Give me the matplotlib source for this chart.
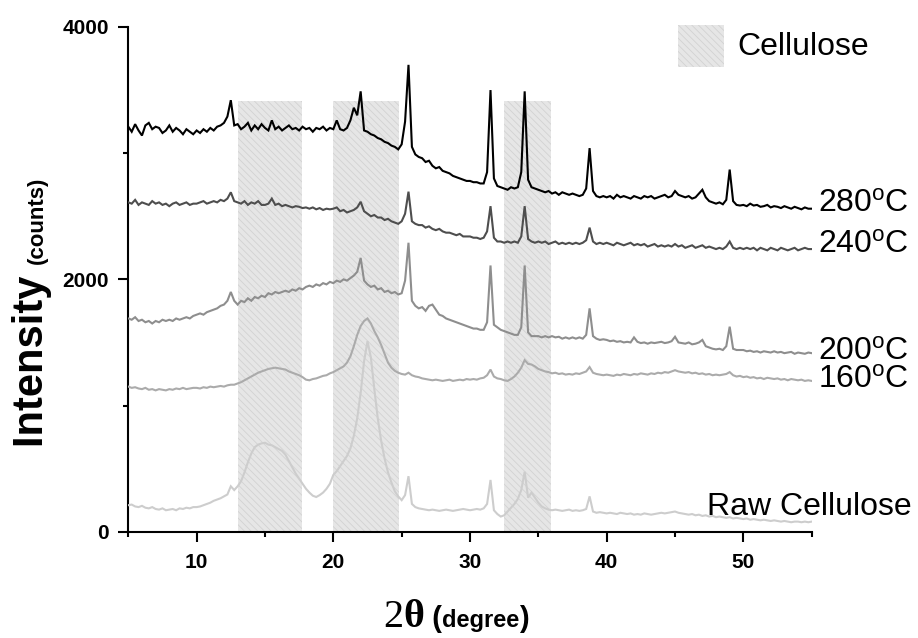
import numpy as np
import matplotlib
matplotlib.use("Agg")
import matplotlib.pyplot as plt
from matplotlib.patches import Rectangle
from matplotlib.ticker import FixedLocator

# ---------------------------------------------------------------- data
# XRD scans, 2-theta from 5 to 55 degrees in 0.25 degree steps
two_theta = np.arange(5.0, 55.001, 0.25)

intensity_280 = [
    3210, 3170, 3230, 3180, 3140, 3220, 3240, 3190, 3210, 3200, 3160, 3180, 3220, 3170, 3200, 3180, 3150, 3190, 3170, 3150,
    3180, 3160, 3190, 3170, 3200, 3180, 3210, 3220, 3240, 3290, 3420, 3220, 3230, 3190, 3210, 3240, 3180, 3220, 3190, 3230,
    3200, 3180, 3260, 3190, 3210, 3180, 3200, 3220, 3190, 3200, 3180, 3210, 3190, 3200, 3170, 3200, 3190, 3210, 3180, 3200,
    3190, 3260, 3190, 3180, 3200, 3260, 3360, 3300, 3490, 3180, 3170, 3150, 3140, 3120, 3110, 3090, 3080, 3060, 3050, 3030,
    3070, 3250, 3700, 3050, 2990, 2970, 2960, 2930, 2940, 2900, 2880, 2890, 2860, 2850, 2840, 2820, 2810, 2800, 2790, 2780,
    2780, 2770, 2770, 2760, 2760, 2850, 3500, 2800, 2740, 2730, 2720, 2710, 2730, 2720, 2730, 2850, 3490, 2790, 2730, 2720,
    2710, 2700, 2690, 2700, 2680, 2690, 2670, 2690, 2680, 2670, 2680, 2670, 2660, 2670, 2720, 3040, 2700, 2660, 2650, 2660,
    2650, 2660, 2640, 2670, 2650, 2660, 2650, 2640, 2660, 2650, 2640, 2660, 2650, 2660, 2640, 2650, 2660, 2670, 2650, 2660,
    2700, 2670, 2660, 2650, 2660, 2640, 2650, 2680, 2710, 2650, 2620, 2610, 2600, 2610, 2595, 2630, 2870, 2620, 2590, 2585,
    2590, 2580, 2600, 2585, 2590, 2575, 2580, 2590, 2570, 2580, 2575, 2565, 2580, 2570, 2560, 2575, 2565, 2555, 2570, 2560,
    2560,
]

intensity_240 = [
    2610, 2600, 2630, 2590, 2610, 2600, 2590, 2620, 2600, 2610, 2590, 2600, 2580, 2600, 2610, 2590, 2600, 2610, 2590, 2600,
    2600, 2610, 2620, 2600, 2610, 2620, 2610, 2630, 2620, 2640, 2690, 2620, 2610, 2600, 2620, 2590, 2610, 2600, 2620, 2590,
    2590, 2600, 2640, 2590, 2600, 2580, 2590, 2580, 2570, 2580, 2575, 2565, 2570, 2560, 2570, 2555, 2565, 2550, 2560, 2555,
    2560, 2570, 2540, 2550, 2530, 2540, 2550, 2570, 2615, 2540, 2520, 2500, 2510, 2490, 2490, 2470, 2480, 2460, 2450, 2440,
    2460, 2520, 2695, 2460, 2440, 2430, 2430, 2410, 2420, 2400, 2390, 2400, 2380, 2370, 2370, 2360, 2350, 2360, 2340, 2340,
    2340, 2330, 2330, 2320, 2330, 2380, 2580, 2330, 2300, 2300, 2290, 2300, 2290, 2300, 2290, 2340, 2580, 2320, 2300, 2290,
    2300, 2290, 2300, 2280, 2290, 2300, 2280, 2290, 2280, 2290, 2280, 2290, 2280, 2290, 2310, 2410, 2300, 2280, 2290, 2280,
    2290, 2280, 2270, 2290, 2280, 2270, 2280, 2290, 2270, 2280, 2270, 2280, 2260, 2270, 2280, 2260, 2270, 2260, 2270, 2260,
    2280, 2260, 2270, 2250, 2260, 2270, 2250, 2260, 2270, 2250, 2260, 2250, 2240, 2250, 2240, 2260, 2300, 2250, 2240, 2250,
    2240, 2250, 2240, 2250, 2230, 2250, 2240, 2230, 2250, 2240, 2230, 2250, 2240, 2230, 2240, 2250, 2230, 2240, 2250, 2240,
    2240,
]

intensity_200 = [
    1690, 1680, 1700, 1670, 1680, 1660, 1670, 1650, 1670, 1660, 1680, 1670, 1680, 1670, 1690, 1680, 1690, 1700, 1690, 1710,
    1720, 1730, 1720, 1740, 1750, 1760, 1770, 1790, 1800, 1830, 1900, 1830, 1800, 1830, 1820, 1850, 1830, 1860, 1850, 1870,
    1860, 1890, 1880, 1900, 1890, 1900, 1910, 1900, 1920, 1910, 1930, 1920, 1940, 1950, 1940, 1960, 1950, 1970, 1960, 1980,
    1970, 1990, 1980, 2000, 1990, 2010, 2030, 2060, 2170, 1990, 1960, 1940, 1950, 1920, 1930, 1900, 1910, 1890, 1900, 1880,
    1890, 1990, 2290, 1830, 1790, 1770, 1780, 1750, 1790, 1800, 1760, 1720, 1710, 1690, 1680, 1670, 1660, 1650, 1640, 1630,
    1620, 1610, 1610, 1600, 1600, 1660, 2110, 1640, 1620, 1600, 1590, 1580, 1570, 1560, 1560, 1620, 2110, 1580, 1550, 1550,
    1550, 1540, 1550, 1540, 1550, 1540, 1545, 1530, 1540, 1530, 1540, 1530, 1540, 1530, 1560, 1770, 1550, 1530, 1520, 1525,
    1520, 1510, 1515, 1505, 1510, 1500, 1505, 1500, 1540, 1505, 1495, 1500, 1490, 1500, 1495, 1500, 1505, 1495, 1500, 1510,
    1545, 1500, 1495, 1490, 1500, 1485, 1490, 1500, 1520, 1470, 1460, 1450, 1445, 1450, 1440, 1470, 1625, 1450, 1440, 1440,
    1440, 1430, 1435, 1425, 1430, 1420, 1430, 1425, 1420, 1430, 1420, 1425, 1415, 1420, 1425, 1410, 1420, 1415, 1410, 1420,
    1415,
]

intensity_160 = [
    1150, 1140, 1145, 1135, 1130, 1140, 1125, 1130, 1120, 1130, 1125, 1120, 1130, 1125, 1135, 1130, 1140, 1130, 1135, 1140,
    1140, 1135, 1145, 1140, 1150, 1145, 1150, 1155, 1150, 1160, 1165, 1165, 1175, 1185, 1200, 1215, 1230, 1245, 1260, 1270,
    1280, 1290, 1295, 1300, 1295, 1290, 1285, 1270, 1260, 1250, 1240, 1225, 1205, 1200, 1210, 1215, 1225, 1235, 1240, 1255,
    1265, 1280, 1295, 1310, 1340, 1390, 1470, 1560, 1630, 1670, 1690, 1650, 1590, 1540, 1480, 1410, 1340, 1300, 1275, 1260,
    1250, 1245, 1260, 1240, 1230, 1225, 1215, 1210, 1205, 1200, 1205, 1200, 1195, 1200, 1205, 1195, 1200, 1205, 1200, 1210,
    1205, 1210, 1205, 1215, 1220, 1240, 1285, 1230, 1215, 1210, 1200, 1195, 1210, 1230, 1260, 1300, 1360, 1330, 1325, 1310,
    1290, 1280, 1270, 1265, 1255, 1260, 1250, 1255, 1245, 1250, 1245, 1255, 1250, 1260, 1270, 1305, 1260, 1250, 1245, 1240,
    1245, 1240, 1235, 1245, 1240, 1250, 1245, 1240, 1250, 1245, 1255, 1250, 1245, 1255, 1250, 1260, 1255, 1265, 1260, 1270,
    1280, 1270, 1265, 1260, 1265, 1255, 1260, 1250, 1255, 1245, 1250, 1240, 1245, 1240, 1245, 1250, 1265, 1240, 1230, 1235,
    1225, 1230, 1220, 1225, 1215, 1220, 1210, 1220, 1215, 1210, 1215, 1205, 1210, 1200, 1210, 1205, 1200, 1205, 1195, 1200,
    1195,
]

intensity_raw = [
    210, 215, 200, 195, 205, 190, 185, 195, 180, 175, 185, 170, 175, 180, 170, 185, 180, 190, 185, 195,
    195, 200, 210, 220, 230, 245, 255, 265, 280, 295, 360, 330, 360, 400, 470, 550, 620, 670, 690, 700,
    705, 690, 685, 670, 655, 640, 610, 560, 510, 460, 420, 380, 340, 310, 285, 275, 290, 310, 340, 380,
    450, 480, 520, 560, 600, 660, 760, 900, 1100, 1350, 1510, 1380, 1130, 900, 720, 580, 470, 390, 320, 280,
    250, 290, 440, 220, 195, 185, 180, 175, 170, 175, 170, 165, 170, 175, 170, 165, 170, 175, 180, 175,
    170, 175, 180, 175, 185, 220, 410, 170, 140, 120, 130, 160, 190, 220, 260, 330, 475, 270, 310, 270,
    230, 200, 185, 175, 170, 175, 170, 165, 170, 175, 165, 170, 165, 170, 180, 280, 160, 150, 155, 150,
    145, 150, 145, 140, 150, 145, 140, 145, 135, 140, 135, 145, 140, 135, 140, 145, 150, 145, 150, 155,
    160, 150, 145, 140, 135, 140, 130, 135, 125, 130, 120, 125, 115, 120, 115, 110, 115, 105, 110, 105,
    100, 105, 95, 100, 95, 90, 95, 90, 85, 90, 85, 80, 85, 80, 75, 80, 80, 75, 80, 75,
    80,
]

# cellulose reflection regions (2-theta start / end) and their height
band_start = [13.0, 20.0, 32.5]
band_end = [17.7, 24.8, 35.9]
band_top = 3410

x_ticks = [10, 20, 30, 40, 50]
x_minor = [5, 15, 25, 35, 45, 55]
y_ticks = [0, 2000, 4000]
y_minor = [1000, 3000]

# ---------------------------------------------------------------- style
plt.rcParams["font.family"] = ["Liberation Sans", "DejaVu Sans"]
plt.rcParams["mathtext.fontset"] = "custom"
plt.rcParams["mathtext.rm"] = "Liberation Sans"
plt.rcParams["mathtext.it"] = "Liberation Sans"
plt.rcParams["hatch.linewidth"] = 0.6

W, H = 918, 638
fig = plt.figure(figsize=(W / 100, H / 100), dpi=100)
ax = fig.add_axes([128.3 / W, 1 - 531.7 / H, (811.7 - 128.3) / W, (531.7 - 27.0) / H])

band_face = "#e6e6e6"
band_hatch = "#d2d2d2"
for s, e in zip(band_start, band_end):
    ax.add_patch(Rectangle((s, 0), e - s, band_top, facecolor=band_face,
                           edgecolor=band_hatch, hatch="\\" * 5, linewidth=0, zorder=1))

curves = [
    (intensity_raw, "#cdcdcd"),
    (intensity_160, "#ababab"),
    (intensity_200, "#8e8e8e"),
    (intensity_240, "#4e4e4e"),
    (intensity_280, "#000000"),
]
for vals, col in curves:
    ax.plot(two_theta, vals, color=col, lw=1.5, zorder=3, solid_joinstyle="miter")

ax.set_xlim(5, 55)
ax.set_ylim(0, 4000)
for side in ("top", "right"):
    ax.spines[side].set_visible(False)
for side in ("left", "bottom"):
    ax.spines[side].set_linewidth(1.5)

ax.set_xticks(x_ticks)
ax.set_xticklabels([str(v) for v in x_ticks])
ax.xaxis.set_minor_locator(FixedLocator(x_minor))
ax.set_yticks(y_ticks)
ax.set_yticklabels([str(v) for v in y_ticks])
ax.yaxis.set_minor_locator(FixedLocator(y_minor))
ax.tick_params(which="major", direction="out", length=7, width=1.5, labelsize=15)
ax.tick_params(which="minor", direction="out", length=3.5, width=1.5)
ax.tick_params(axis="x", which="major", pad=8)
ax.tick_params(axis="y", which="major", pad=7)
for lab in ax.get_xticklabels() + ax.get_yticklabels():
    lab.set_fontweight("bold")

# curve labels at the right end
label_fs = 23
curve_labels = [
    (55.45, 2531, r"280$^{\rm o}$C"),
    (55.45, 2207, r"240$^{\rm o}$C"),
    (55.45, 1361, r"200$^{\rm o}$C"),
    (55.45, 1136, r"160$^{\rm o}$C"),
    (47.33, 132, "Raw Cellulose"),
]
for x, y, txt in curve_labels:
    ax.text(x, y, txt, fontsize=label_fs, ha="left", va="baseline",
            clip_on=False, zorder=5)

# legend entry for the cellulose regions
fig.add_artist(Rectangle((678 / W, 1 - 67 / H), 46 / W, 42 / H, transform=fig.transFigure,
                         facecolor=band_face, edgecolor=band_hatch, hatch="\\" * 5, linewidth=0))
fig.text(737 / W, 1 - 47 / H, "Cellulose", fontsize=label_fs, ha="left", va="center")

# axis titles built from pieces of different sizes
renderer = fig.canvas.get_renderer()


def run_horizontal(pieces, x0, base):
    x = x0
    for s, kw in pieces:
        t = fig.text(x / W, 1 - base / H, s, ha="left", va="baseline", **kw)
        x += t.get_window_extent(renderer).width


def run_vertical(pieces, base, y0):
    y = y0
    for s, kw in pieces:
        t = fig.text(base / W, 1 - y / H, s, rotation=90, rotation_mode="anchor",
                     ha="left", va="baseline", **kw)
        y -= t.get_window_extent(renderer).height


run_horizontal([
    ("2", dict(family="Liberation Serif", fontsize=29)),
    ("\u03b8", dict(family="Liberation Serif", fontsize=29, fontweight="bold")),
    (" (", dict(fontsize=21, fontweight="bold")),
    ("degree", dict(fontsize=17, fontweight="bold")),
    (")", dict(fontsize=21, fontweight="bold")),
], 383, 627)

run_vertical([
    ("Intensity ", dict(fontsize=30, fontweight="bold")),
    ("(counts)", dict(fontsize=16, fontweight="bold")),
], 43, 447)

fig.savefig("out.png", dpi=100)
